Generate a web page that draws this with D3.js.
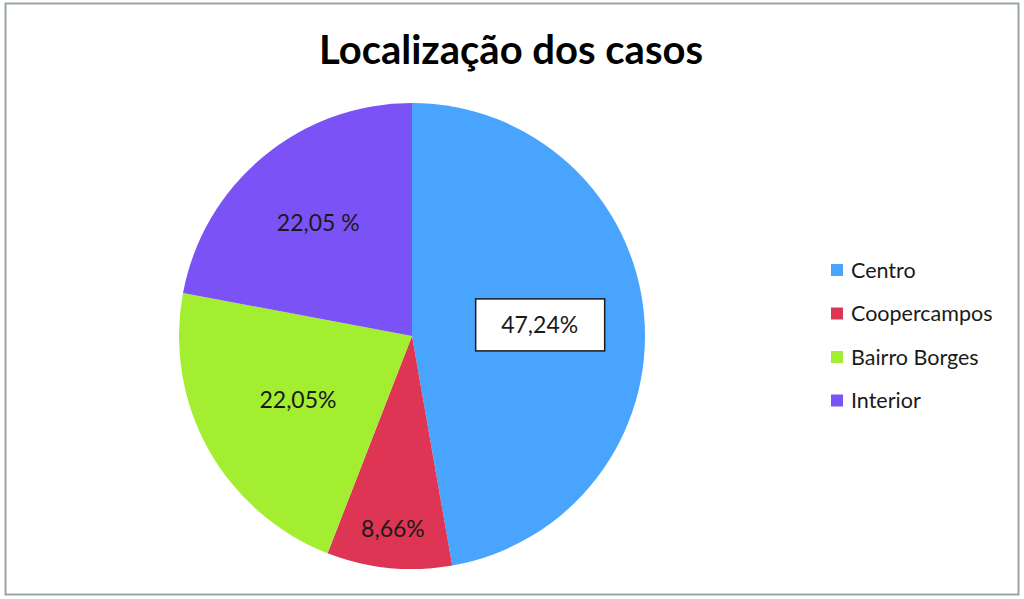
<!DOCTYPE html>
<head>
<meta charset="utf-8">
<style>
body { margin: 0; background: #fff; }
svg text { font-family: Lato, "Noto Sans", sans-serif; fill: #1a1a1a; }
.title { font-weight: bold; fill: #000; }
</style>
</head>
<body>
<script src="https://cdn.jsdelivr.net/npm/d3@7"></script>
<script>
// data
var categories = ["Centro", "Coopercampos", "Bairro Borges", "Interior"];
var values     = [47.24, 8.66, 22.05, 22.05];
var labels     = ["47,24%", "8,66%", "22,05%", "22,05 %"];
var colors     = ["#48a4fc", "#dd3553", "#a3ee30", "#7a52f5"];

// layout
var width = 1024, height = 599,
    cx = 412, cy = 336, radius = 233;
var labelRadius = [0.55, 0.83, 0.56, 0.63];   // fraction of radius per slice

var svg = d3.select("body").append("svg")
    .attr("width", width)
    .attr("height", height);

// outer frame
svg.append("rect")
    .attr("x", 5.5).attr("y", 3.5)
    .attr("width", 1013).attr("height", 591)
    .attr("fill", "#fff")
    .attr("stroke", "#9aa5a5")
    .attr("stroke-width", 2);

svg.append("text")
    .classed("title", true)
    .attr("x", 511)
    .attr("y", 64)
    .attr("text-anchor", "middle")
    .style("font-size", "40px")
    .text("Localização dos casos");

var pie = d3.pie().sort(null).value(function (d) { return d; });
var arcs = pie(values);
var arc = d3.arc().innerRadius(0).outerRadius(radius);

var g = svg.append("g")
    .attr("transform", "translate(" + cx + "," + cy + ")");

g.selectAll("path.slice")
  .data(arcs)
  .enter().append("path")
    .classed("slice", true)
    .attr("d", arc)
    .attr("fill", function (d, i) { return colors[i]; });

// data labels
var lab = g.selectAll("g.lab")
  .data(arcs)
  .enter().append("g")
    .classed("lab", true)
    .attr("transform", function (d, i) {
      var r = radius * labelRadius[i],
          a = (d.startAngle + d.endAngle) / 2;
      return "translate(" + (r * Math.sin(a)) + "," + (-r * Math.cos(a)) + ")";
    });

// boxed label on the largest slice
lab.filter(function (d, i) { return i === 0; })
  .append("rect")
    .attr("x", -64).attr("y", -26)
    .attr("width", 129).attr("height", 52)
    .attr("fill", "#fff")
    .attr("stroke", "#1a1a1a")
    .attr("stroke-width", 1.5);

lab.append("text")
    .attr("text-anchor", "middle")
    .attr("dy", "0.36em")
    .style("font-size", "23px")
    .text(function (d, i) { return labels[i]; });

// legend
var legend = svg.append("g")
    .attr("transform", "translate(831,270)");

var item = legend.selectAll("g.item")
  .data(categories)
  .enter().append("g")
    .classed("item", true)
    .attr("transform", function (d, i) { return "translate(0," + (i * 43.5) + ")"; });

item.append("rect")
    .attr("x", 0).attr("y", -6)
    .attr("width", 12).attr("height", 12)
    .attr("fill", function (d, i) { return colors[i]; });

item.append("text")
    .attr("x", 20)
    .attr("dy", "0.36em")
    .style("font-size", "21.5px")
    .text(function (d) { return d; });
</script>
</body>
</html>
